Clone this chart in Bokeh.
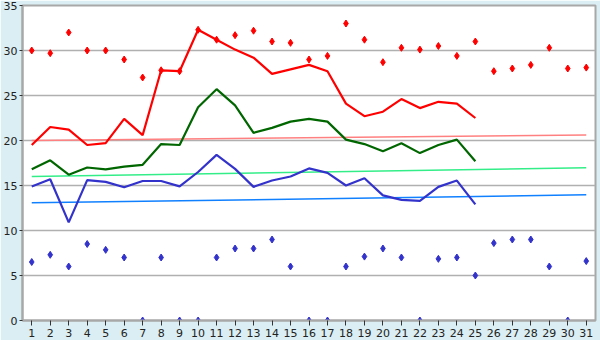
from bokeh.plotting import figure
from bokeh.models import Range1d, FixedTicker
from bokeh.embed import file_html
from bokeh.resources import INLINE

days = list(range(1, 32))
line_days = list(range(1, 26))

max_line = [19.5, 21.5, 21.2, 19.5, 19.7, 22.4, 20.6, 27.8, 27.7, 32.3,
            31.2, 30.1, 29.2, 27.4, 27.9, 28.4, 27.7, 24.1, 22.7, 23.2,
            24.6, 23.6, 24.3, 24.1, 22.5]
mean_line = [16.8, 17.8, 16.2, 17.0, 16.8, 17.1, 17.3, 19.6, 19.5, 23.7,
             25.7, 23.9, 20.85, 21.4, 22.1, 22.4, 22.1, 20.1, 19.6, 18.8,
             19.7, 18.6, 19.5, 20.1, 17.7]
min_line = [14.9, 15.7, 10.9, 15.6, 15.4, 14.8, 15.5, 15.5, 14.9, 16.5,
            18.4, 16.85, 14.85, 15.55, 16.0, 16.9, 16.4, 15.0, 15.8, 13.9,
            13.4, 13.3, 14.85, 15.55, 12.9]

max_pts = [30.0, 29.7, 32.0, 30.0, 30.0, 29.0, 27.0, 27.8, 27.7, 32.3,
           31.2, 31.7, 32.2, 31.0, 30.85, 29.0, 29.4, 33.0, 31.2, 28.7,
           30.3, 30.1, 30.5, 29.4, 31.0, 27.7, 28.0, 28.4, 30.3, 28.0, 28.1]
min_pts = [6.5, 7.3, 6.0, 8.5, 7.85, 7.0, 0, 7.0, 0, 0,
           7.0, 8.0, 8.0, 9.0, 6.0, 0, 0, 6.0, 7.1, 8.0,
           7.0, 0, 6.85, 7.0, 5.0, 8.6, 9.0, 9.0, 6.0, 0, 6.6]

trend_days = [1, 31]
trend_max = [20.0, 20.6]
trend_mean = [16.0, 16.97]
trend_min = [13.07, 13.96]

y_ticks = [0, 5, 10, 15, 20, 25, 30, 35]

p = figure(width=600, height=340, output_backend="svg", toolbar_location=None,
           x_range=Range1d(0.5, 31.5), y_range=Range1d(0, 35),
           min_border_left=20, min_border_right=5, min_border_top=5,
           min_border_bottom=20)
p.border_fill_color = "#DAEEF3"
p.background_fill_color = "white"
p.outline_line_color = "#A8A8A8"
p.outline_line_width = 2

p.xgrid.grid_line_color = None
p.ygrid.grid_line_color = "#B0B0B0"
p.ygrid.grid_line_width = 1.5

p.yaxis.ticker = FixedTicker(ticks=y_ticks)
p.xaxis.ticker = FixedTicker(ticks=days)
for ax in (p.xaxis, p.yaxis):
    ax.axis_line_color = "#A8A8A8"
    ax.axis_line_width = 2
    ax.major_tick_line_color = "#333333"
    ax.major_tick_in = 0
    ax.minor_tick_line_color = None
    ax.major_label_text_font = "DejaVu Sans"
    ax.major_label_text_font_size = "11px"
    ax.major_label_text_color = "#222222"
p.xaxis.major_tick_out = 5
p.yaxis.major_tick_out = 3
p.xaxis.major_label_standoff = 3
p.yaxis.major_label_standoff = 2

p.line(trend_days, trend_max, line_color="#FF8080", line_width=1.5)
p.line(trend_days, trend_mean, line_color="#33EE88", line_width=1.5)
p.line(trend_days, trend_min, line_color="#1080FF", line_width=1.5)

p.line(line_days, max_line, line_color="#FF0000", line_width=2.2)
p.line(line_days, mean_line, line_color="#006600", line_width=2.2)
p.line(line_days, min_line, line_color="#3333CC", line_width=2.2)

p.scatter(days, max_pts, marker="diamond", size=7, fill_color="#FF0000",
          line_color="#FF0000")
p.scatter(days, min_pts, marker="diamond", size=7, fill_color="#3333CC",
          line_color="#3333CC")

open("out.html", "w").write(file_html(p, INLINE))
